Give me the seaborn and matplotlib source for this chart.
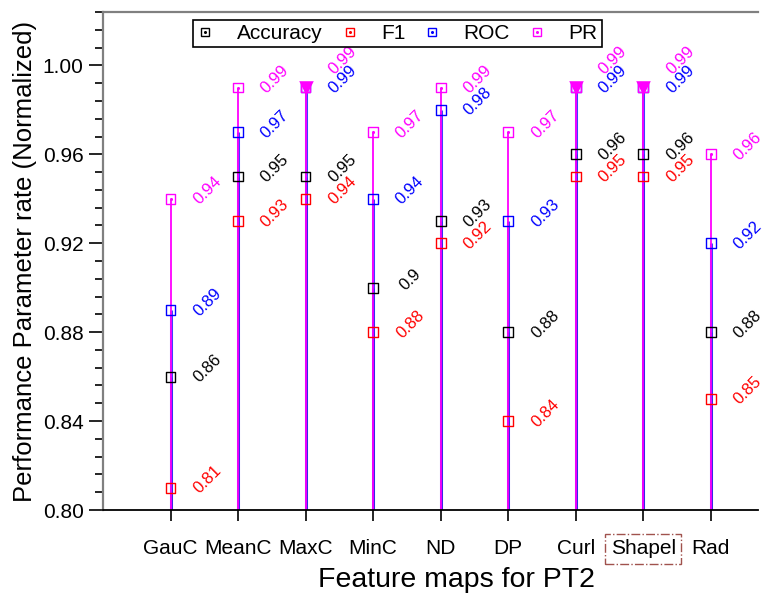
import matplotlib
matplotlib.use("Agg")
import matplotlib.pyplot as plt
from matplotlib.lines import Line2D
from matplotlib.ticker import MultipleLocator
import numpy as np
import pandas as pd
import seaborn as sns

categories = ["GauC", "MeanC", "MaxC", "MinC", "ND", "DP", "Curl", "Shapel", "Rad"]
accuracy = [0.86, 0.95, 0.95, 0.90, 0.93, 0.88, 0.96, 0.96, 0.88]
f1 = [0.81, 0.93, 0.94, 0.88, 0.92, 0.84, 0.95, 0.95, 0.85]
roc = [0.89, 0.97, 0.99, 0.94, 0.98, 0.93, 0.99, 0.99, 0.92]
pr = [0.94, 0.99, 0.99, 0.97, 0.99, 0.97, 0.99, 0.99, 0.96]
pr_labels = ["0.94", "0.99", "0.99", "0.97", "0.99", "0.97", "0.99", "0.99", "0.96"]
roc_labels = ["0.89", "0.97", "0.99", "0.94", "0.98", "0.93", "0.99", "0.99", "0.92"]
acc_labels = ["0.86", "0.95", "0.95", "0.9", "0.93", "0.88", "0.96", "0.96", "0.88"]
f1_labels = ["0.81", "0.93", "0.94", "0.88", "0.92", "0.84", "0.95", "0.95", "0.85"]
capped = ["MaxC", "Curl", "Shapel"]  # drawn with a filled down-triangle at top

series_names = ["Accuracy", "F1", "ROC", "PR"]
series_vals = [accuracy, f1, roc, pr]
series_lbls = [acc_labels, f1_labels, roc_labels, pr_labels]
colors = {"Accuracy": "black", "F1": "#ff0000", "ROC": "#0000ff", "PR": "#ff00ff"}

rows = []
for name, vals in zip(series_names, series_vals):
    for i, (c, v) in enumerate(zip(categories, vals)):
        rows.append({"Feature": c, "pos": i, "Metric": name, "Value": v})
df = pd.DataFrame(rows)

sns.set_theme(style="white")
plt.rcParams["font.family"] = ["Liberation Sans", "DejaVu Sans"]
plt.rcParams.update({"text.color": "black", "axes.labelcolor": "black",
                     "xtick.color": "black", "ytick.color": "black"})

fig = plt.figure(figsize=(7.64, 5.94), dpi=100)
ax = fig.add_axes([103 / 764, 84 / 594, (758 - 103) / 764, (510 - 12) / 594])

base = 0.80
# drop lines
for name, lw, al in [("Accuracy", 1.0, 1), ("F1", 1.0, 1), ("ROC", 2.2, 0.75), ("PR", 1.3, 1)]:
    sub = df[df.Metric == name]
    ax.vlines(sub["pos"], base, sub["Value"], colors=colors[name], lw=lw, alpha=al, zorder=2)

# hollow square markers via seaborn
for name in series_names:
    sub = df[df.Metric == name]
    sns.scatterplot(data=sub, x="pos", y="Value", marker="s", s=50, facecolor="none",
                    edgecolor=colors[name], linewidth=1.0, ax=ax, zorder=4, legend=False)
sub = df[df.Metric == "PR"]
ax.scatter(sub["pos"], sub["Value"], s=1.5, color=colors["PR"], zorder=5)

# filled triangles on capped features
cap = df[(df.Metric == "PR") & (df.Feature.isin(capped))]
ax.scatter(cap["pos"], cap["Value"], marker="v", s=110, color="#ff00ff", zorder=6, linewidths=0)

# value labels
for name, vals, lbls in zip(series_names, series_vals, series_lbls):
    for i, (v, t) in enumerate(zip(vals, lbls)):
        dy = 8
        if name == "PR" and pr[i] == roc[i]:
            dy = 27
        ax.annotate(t, (i, v), xytext=(37, dy), textcoords="offset pixels",
                    rotation=45, ha="center", va="center", fontsize=12,
                    color=colors[name], zorder=7)

ax.set_xlim(-1, 8.7)
ax.set_ylim(0.80, 1.024)
ax.set_xticks(range(len(categories)))
ax.set_xticklabels(categories, fontsize=15)
ax.yaxis.set_minor_locator(MultipleLocator(0.008))
yt = np.arange(0.80, 1.001, 0.04)
ax.set_yticks(yt)
ax.set_yticklabels([f"{t:.2f}" for t in yt], fontsize=15)
ax.tick_params(axis="y", which="major", direction="out", length=10, width=1.2, color="black", left=True, pad=4)
ax.tick_params(axis="y", which="minor", direction="out", length=6, width=1.2, color="black", left=True)
ax.tick_params(axis="x", which="major", direction="out", length=8, width=1.2, color="black", bottom=True, pad=13)

ax.set_xlabel("Feature maps for PT2", fontsize=20.5)
ax.xaxis.set_label_coords((456 - 103) / 655, -0.115)
ax.set_ylabel("Performance Parameter rate (Normalized)", fontsize=18.5, labelpad=4)

for side in ["left", "top"]:
    ax.spines[side].set_color("#808080")
    ax.spines[side].set_linewidth(1.6)
ax.spines["bottom"].set_color("black")
ax.spines["bottom"].set_linewidth(1.3)
ax.spines["right"].set_visible(False)

# dash-dot box on the Shapel tick label
for lab in ax.get_xticklabels():
    if lab.get_text() == "Shapel":
        lab.set_bbox(dict(facecolor="none", edgecolor="#a0524d", linestyle="-.", linewidth=1.0, pad=4))

handles = []
for name in series_names:
    sq = Line2D([], [], marker="s", ms=6, mfc="none", mec=colors[name], mew=1.0, ls="none")
    dot = Line2D([], [], marker="o", ms=1.2, color=colors[name], ls="none")
    handles.append((sq, dot))
leg = fig.legend(handles, series_names, loc="upper left", bbox_to_anchor=(193 / 764, 1 - 20 / 594),
                 ncol=4, fontsize=15, frameon=True, fancybox=False, edgecolor="black",
                 framealpha=1, borderpad=0.2, borderaxespad=0, handletextpad=1.1,
                 columnspacing=0.9, handlelength=0.8)
leg.get_frame().set_linewidth(1.2)

fig.savefig("out.png", dpi=100)
